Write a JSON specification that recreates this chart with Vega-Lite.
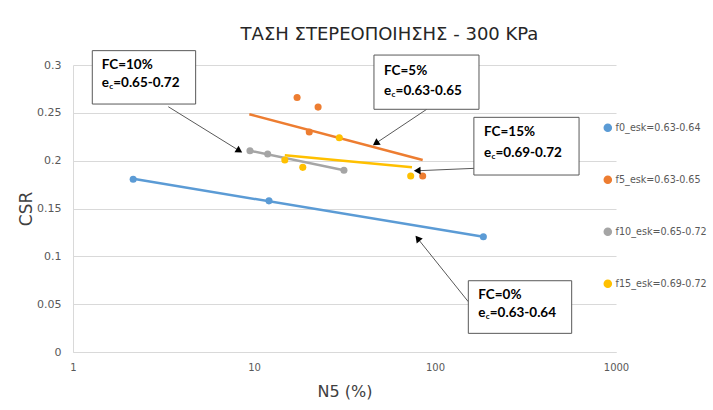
{
  "$schema": "https://vega.github.io/schema/vega-lite/v6.json",
  "width": 543,
  "height": 287,
  "autosize": {"type": "none"},
  "padding": {"left": 73, "top": 65, "right": 97, "bottom": 58},
  "background": "white",
  "title": {"text": "ΤΑΣΗ ΣΤΕΡΕΟΠΟΙΗΣΗΣ - 300 KPa", "font": "DejaVu Sans", "fontSize": 18, "fontWeight": "normal", "color": "#262626", "anchor": "middle", "dx": 45, "offset": 6},
  "config": {
    "view": {"stroke": null},
    "legend": {"orient": "none", "legendX": 530, "legendY": 58, "rowPadding": 38, "labelFont": "DejaVu Sans", "labelFontSize": 9.6, "labelColor": "#595959", "symbolSize": 50, "labelOffset": 3, "symbolType": "circle"}
  },
  "datasets": {
    "points": [
      {"series": "f0_esk=0.63-0.64", "x": 2.15, "y": 0.1805},
      {"series": "f0_esk=0.63-0.64", "x": 12.1, "y": 0.158},
      {"series": "f0_esk=0.63-0.64", "x": 185, "y": 0.1205},
      {"series": "f5_esk=0.63-0.65", "x": 17.3, "y": 0.266},
      {"series": "f5_esk=0.63-0.65", "x": 22.6, "y": 0.256},
      {"series": "f5_esk=0.63-0.65", "x": 20.2, "y": 0.23},
      {"series": "f5_esk=0.63-0.65", "x": 85.5, "y": 0.184},
      {"series": "f10_esk=0.65-0.72", "x": 9.5, "y": 0.2104},
      {"series": "f10_esk=0.65-0.72", "x": 11.9, "y": 0.207},
      {"series": "f10_esk=0.65-0.72", "x": 31.4, "y": 0.19},
      {"series": "f15_esk=0.69-0.72", "x": 29.6, "y": 0.224},
      {"series": "f15_esk=0.69-0.72", "x": 14.8, "y": 0.2007},
      {"series": "f15_esk=0.69-0.72", "x": 18.6, "y": 0.193},
      {"series": "f15_esk=0.69-0.72", "x": 73.4, "y": 0.184}
    ],
    "trend": [
      {"series": "f0_esk=0.63-0.64", "x": 2.15, "y": 0.181},
      {"series": "f0_esk=0.63-0.64", "x": 185, "y": 0.1205},
      {"series": "f5_esk=0.63-0.65", "x": 9.42, "y": 0.2485},
      {"series": "f5_esk=0.63-0.65", "x": 85.5, "y": 0.2007},
      {"series": "f10_esk=0.65-0.72", "x": 9.5, "y": 0.2104},
      {"series": "f10_esk=0.65-0.72", "x": 31.4, "y": 0.19},
      {"series": "f15_esk=0.69-0.72", "x": 14.8, "y": 0.2056},
      {"series": "f15_esk=0.69-0.72", "x": 74.6, "y": 0.193}
    ],
    "arrows": [
      {"id": "10", "x": 3.36, "y": 0.2564, "x2": 8.2, "y2": 0.211},
      {"id": "5", "x": 90.0, "y": 0.2537, "x2": 47.6, "y2": 0.2188},
      {"id": "15", "x": 166, "y": 0.192, "x2": 80.9, "y2": 0.1895},
      {"id": "0", "x": 152.7, "y": 0.0526, "x2": 80.9, "y2": 0.1178}
    ],
    "boxes": [
      {"id": "10", "x": 1.278, "x2": 4.76, "y": 0.2592, "y2": 0.315},
      {"id": "5", "x": 46.0, "x2": 175, "y": 0.2537, "y2": 0.3104},
      {"id": "15", "x": 164, "x2": 625, "y": 0.185, "y2": 0.2453},
      {"id": "0", "x": 152.8, "x2": 569, "y": 0.0195, "y2": 0.0745}
    ],
    "labels": [
      {"id": "10", "x": 1.441, "y": 0.3, "yb": 0.2809, "fc": "FC=10%", "e": "e", "c": "c", "ec": "=0.65-0.72"},
      {"id": "5", "x": 52.3, "y": 0.294, "yb": 0.2731, "fc": "FC=5%", "e": "e", "c": "c", "ec": "=0.63-0.65"},
      {"id": "15", "x": 186.6, "y": 0.2296, "yb": 0.2083, "fc": "FC=15%", "e": "e", "c": "c", "ec": "=0.69-0.72"},
      {"id": "0", "x": 173.4, "y": 0.0596, "yb": 0.0405, "fc": "FC=0%", "e": "e", "c": "c", "ec": "=0.63-0.64"}
    ]
  },
  "layer": [
    {
      "data": {"name": "trend"},
      "mark": {"type": "line", "strokeWidth": 2.5},
      "encoding": {
        "x": {"field": "x", "type": "quantitative", "scale": {"type": "log", "domain": [1, 1000]},
          "axis": {"values": [1, 10, 100, 1000], "format": "d", "grid": false, "ticks": false, "labelFlush": false, "domainColor": "#d9d9d9", "labelFont": "DejaVu Sans", "labelFontSize": 10, "labelColor": "#595959", "labelPadding": 10, "title": "N5 (%)", "titleFont": "DejaVu Sans", "titleFontSize": 16, "titleFontWeight": "normal", "titleColor": "#404040", "titlePadding": 11}},
        "y": {"field": "y", "type": "quantitative", "scale": {"domain": [0, 0.3]},
          "axis": {"values": [0, 0.05, 0.1, 0.15, 0.2, 0.25, 0.3], "format": "~g", "grid": true, "gridColor": "#d9d9d9", "ticks": false, "labelFlush": false, "domainColor": "#d9d9d9", "labelFont": "DejaVu Sans", "labelFontSize": 11, "labelColor": "#595959", "labelPadding": 12, "title": "CSR", "titleFont": "DejaVu Sans", "titleFontSize": 17, "titleFontWeight": "normal", "titleColor": "#404040", "titleX": -47, "titleY": 143.5, "titleBaseline": "middle", "titleAlign": "center", "titleAngle": -90}},
        "color": {"field": "series", "type": "nominal", "scale": {"domain": ["f0_esk=0.63-0.64", "f5_esk=0.63-0.65", "f10_esk=0.65-0.72", "f15_esk=0.69-0.72"], "range": ["#5B9BD5", "#ED7D31", "#A5A5A5", "#FFC000"]}, "legend": {"title": null}},
        "detail": {"field": "series"}
      }
    },
    {
      "data": {"name": "points"},
      "mark": {"type": "point", "filled": true, "size": 50, "opacity": 1},
      "encoding": {
        "x": {"field": "x", "type": "quantitative"},
        "y": {"field": "y", "type": "quantitative"},
        "color": {"field": "series", "type": "nominal", "legend": {"title": null}}
      }
    },
    {
      "data": {"name": "arrows"},
      "mark": {"type": "rule", "color": "#595959", "strokeWidth": 1},
      "encoding": {
        "x": {"field": "x", "type": "quantitative"},
        "y": {"field": "y", "type": "quantitative"},
        "x2": {"field": "x2"},
        "y2": {"field": "y2"}
      }
    },
    {
      "data": {"name": "arrows"},
      "transform": [{"filter": "datum.id == '10'"}],
      "mark": {"type": "point", "shape": "triangle", "filled": true, "color": "#000000", "opacity": 1, "size": 60, "angle": 122},
      "encoding": {"x": {"field": "x2", "type": "quantitative"}, "y": {"field": "y2", "type": "quantitative"}}
    },
    {
      "data": {"name": "arrows"},
      "transform": [{"filter": "datum.id == '5'"}],
      "mark": {"type": "point", "shape": "triangle", "filled": true, "color": "#000000", "opacity": 1, "size": 60, "angle": 236},
      "encoding": {"x": {"field": "x2", "type": "quantitative"}, "y": {"field": "y2", "type": "quantitative"}}
    },
    {
      "data": {"name": "arrows"},
      "transform": [{"filter": "datum.id == '15'"}],
      "mark": {"type": "point", "shape": "triangle", "filled": true, "color": "#000000", "opacity": 1, "size": 60, "angle": 268},
      "encoding": {"x": {"field": "x2", "type": "quantitative"}, "y": {"field": "y2", "type": "quantitative"}}
    },
    {
      "data": {"name": "arrows"},
      "transform": [{"filter": "datum.id == '0'"}],
      "mark": {"type": "point", "shape": "triangle", "filled": true, "color": "#000000", "opacity": 1, "size": 60, "angle": 321},
      "encoding": {"x": {"field": "x2", "type": "quantitative"}, "y": {"field": "y2", "type": "quantitative"}}
    },
    {
      "data": {"name": "boxes"},
      "mark": {"type": "rect", "fill": "white", "stroke": "#595959", "strokeWidth": 1},
      "encoding": {
        "x": {"field": "x", "type": "quantitative"},
        "x2": {"field": "x2"},
        "y": {"field": "y", "type": "quantitative"},
        "y2": {"field": "y2"}
      }
    },
    {
      "data": {"name": "labels"},
      "mark": {"type": "text", "align": "left", "baseline": "middle", "font": "Lato", "fontWeight": "bold", "fontSize": 13.5, "color": "#000000"},
      "encoding": {
        "x": {"field": "x", "type": "quantitative"},
        "y": {"field": "y", "type": "quantitative"},
        "text": {"field": "fc"}
      }
    },
    {
      "data": {"name": "labels"},
      "mark": {"type": "text", "align": "left", "baseline": "middle", "font": "Lato", "fontWeight": "bold", "fontSize": 13.5, "color": "#000000"},
      "encoding": {
        "x": {"field": "x", "type": "quantitative"},
        "y": {"field": "yb", "type": "quantitative"},
        "text": {"field": "e"}
      }
    },
    {
      "data": {"name": "labels"},
      "mark": {"type": "text", "align": "left", "baseline": "middle", "font": "Lato", "fontWeight": "bold", "fontSize": 8, "color": "#000000", "dx": 7.5, "dy": 4},
      "encoding": {
        "x": {"field": "x", "type": "quantitative"},
        "y": {"field": "yb", "type": "quantitative"},
        "text": {"field": "c"}
      }
    },
    {
      "data": {"name": "labels"},
      "mark": {"type": "text", "align": "left", "baseline": "middle", "font": "Lato", "fontWeight": "bold", "fontSize": 13.5, "color": "#000000", "dx": 11.5},
      "encoding": {
        "x": {"field": "x", "type": "quantitative"},
        "y": {"field": "yb", "type": "quantitative"},
        "text": {"field": "ec"}
      }
    }
  ]
}
